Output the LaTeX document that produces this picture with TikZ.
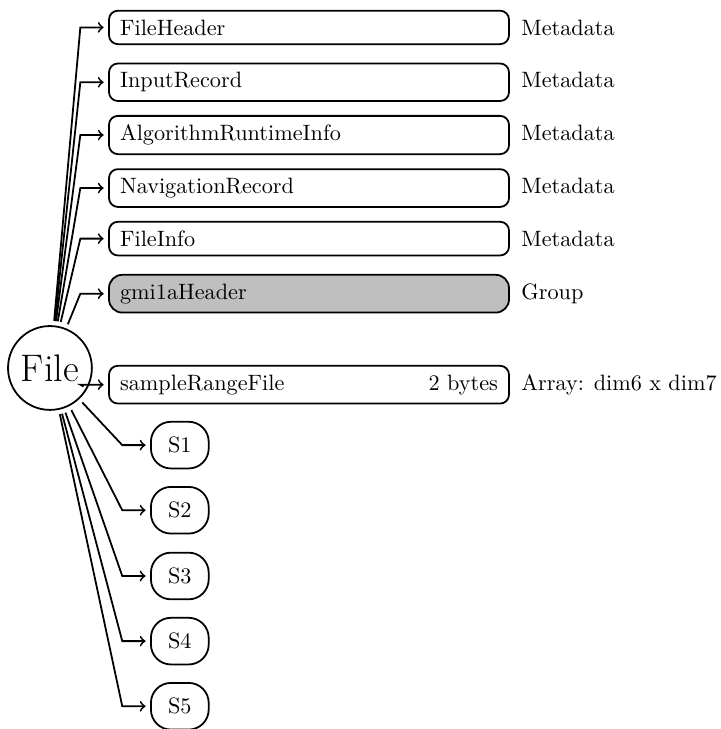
\documentclass[tikz,border=0pt]{standalone}
\usetikzlibrary{positioning}
\tikzset{
	record/.style={draw, thick, rounded corners=4pt, text width=170pt, inner xsep=5pt, inner ysep=4pt, anchor=base west},
	grp/.style={record, fill=gray!50, rounded corners=6pt},
	sbox/.style={draw, thick, rounded corners=9pt, minimum width=26pt, minimum height=21pt, anchor=west},
	kind/.style={inner sep=0pt},
	link/.style={thick, ->, shorten <=2pt, shorten >=2pt},
}
\begin{document}
\begin{tikzpicture}
			\useasboundingbox (0,0) rectangle (11.39,-11.53);
			\node[circle, draw, thick, font=\LARGE] at (0.79,-5.82) (File) {File};
			%
			\node[record] at (1.71,-0.554) (fh) {FileHeader};
			\node[record] at (1.71,-1.389) (ir) {InputRecord};
			\node[record] at (1.71,-2.225) (ari) {AlgorithmRuntimeInfo};
			\node[record] at (1.71,-3.060) (nr) {NavigationRecord};
			\node[record] at (1.71,-3.896) (fi) {FileInfo};
			\node[grp] at (1.71,-4.731) (gh) {gmi1aHeader};
			\node[record] at (1.71,-6.17) (srf) {sampleRangeFile\hfill 2 bytes};
			%
			\node[kind, base right=5pt of fh] {Metadata};
			\node[kind, base right=5pt of ir] {Metadata};
			\node[kind, base right=5pt of ari] {Metadata};
			\node[kind, base right=5pt of nr] {Metadata};
			\node[kind, base right=5pt of fi] {Metadata};
			\node[kind, base right=5pt of gh] {Group};
			\node[kind, base right=5pt of srf] {Array: dim6 x dim7};
			%
			\node[sbox] at (2.373,-7.04) (s1) {S1};
			\node[sbox] at (2.373,-8.07) (s2) {S2};
			\node[sbox] at (2.373,-9.11) (s3) {S3};
			\node[sbox] at (2.373,-10.14) (s4) {S4};
			\node[sbox] at (2.373,-11.17) (s5) {S5};
			%
			\foreach \n in {fh,ir,ari,nr,fi,gh,srf,s1,s2,s3,s4,s5}
				\draw[link] (File) -- ([xshift=-12.5pt]\n.west) -- (\n);
		\end{tikzpicture}
\end{document}
